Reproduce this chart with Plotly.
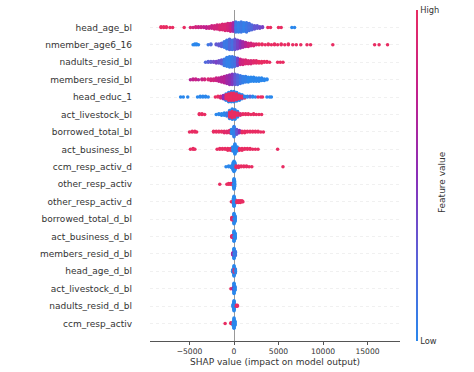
import numpy as np
import plotly.graph_objects as go

# Feature names, top to bottom
feature_names = [
    "head_age_bl", "nmember_age6_16", "nadults_resid_bl", "members_resid_bl",
    "head_educ_1", "act_livestock_bl", "borrowed_total_bl", "act_business_bl",
    "ccm_resp_activ_d", "other_resp_activ", "other_resp_activ_d",
    "borrowed_total_d_bl", "act_business_d_bl", "members_resid_d_bl",
    "head_age_d_bl", "act_livestock_d_bl", "nadults_resid_d_bl", "ccm_resp_activ",
]

# Each row: (SHAP value, number of samples, feature value 0=low..1=high)
head_age_bl = [
    (-8200, 2, 1.0), (-7900, 2, 1.0), (-7600, 2, 1.0), (-7200, 1, 1.0), (-6900, 1, 1.0),
    (-5600, 1, 1.0), (-4900, 1, 0.9), (-4600, 1, 0.85), (-4300, 2, 0.85), (-4000, 2, 0.8),
    (-3700, 2, 0.8), (-3400, 2, 0.75), (-3100, 3, 0.75), (-2800, 3, 0.8), (-2500, 4, 0.8),
    (-2200, 5, 0.85), (-1900, 6, 0.85), (-1600, 7, 0.9), (-1300, 8, 0.9), (-1000, 9, 0.9),
    (-700, 10, 0.85), (-400, 11, 0.8), (-100, 12, 0.6), (200, 14, 0.1), (500, 13, 0.05),
    (800, 14, 0.1), (1100, 12, 0.05), (1400, 13, 0.1), (1700, 10, 0.15), (2000, 7, 0.2),
    (2300, 5, 0.3), (2600, 4, 0.3), (2900, 3, 0.35), (3200, 2, 0.4), (3800, 1, 1.0),
    (4100, 1, 1.0), (5000, 1, 1.0), (5300, 1, 1.0), (6500, 1, 0.0), (6800, 1, 0.0),
]
nmember_age6_16 = [
    (-4600, 1, 0.0), (-4400, 2, 0.0), (-4200, 2, 0.0), (-4000, 1, 0.0),
    (-2900, 1, 0.1), (-2600, 2, 0.2), (-2000, 2, 0.3), (-1700, 3, 0.3), (-1400, 5, 0.25),
    (-1100, 8, 0.1), (-800, 12, 0.1), (-500, 14, 0.2), (-200, 13, 0.15), (100, 14, 0.3),
    (400, 12, 0.4), (700, 10, 0.5), (1000, 8, 0.6), (1300, 6, 0.7), (1600, 5, 0.8),
    (1900, 4, 0.85), (2200, 3, 0.9), (2500, 2, 0.9), (2800, 2, 1.0), (3150, 2, 1.0),
    (3500, 1, 1.0), (3850, 2, 1.0), (4200, 1, 1.0), (4550, 2, 1.0), (4900, 1, 1.0),
    (5300, 2, 1.0), (5700, 1, 1.0), (6100, 2, 1.0), (6600, 1, 1.0), (7000, 1, 1.0),
    (7500, 1, 1.0), (8200, 1, 1.0), (8600, 1, 1.0), (11100, 1, 1.0), (15800, 1, 1.0),
    (16300, 1, 1.0), (17250, 1, 1.0),
]
nadults_resid_bl = [
    (-3200, 1, 0.2), (-2900, 2, 0.25), (-2600, 2, 0.3), (-2300, 2, 0.35), (-2000, 3, 0.4),
    (-1700, 4, 0.35), (-1400, 6, 0.3), (-1100, 9, 0.1), (-800, 12, 0.05), (-500, 14, 0.05),
    (-200, 14, 0.1), (100, 12, 0.15), (400, 10, 0.4), (700, 8, 0.8), (1000, 7, 0.85),
    (1300, 6, 0.9), (1600, 5, 0.9), (1900, 5, 0.9), (2200, 4, 0.95), (2500, 4, 0.95),
    (2800, 3, 1.0), (3100, 3, 1.0), (3400, 2, 1.0), (3700, 2, 1.0), (4000, 1, 1.0),
    (4900, 1, 1.0), (5200, 1, 1.0), (5500, 1, 1.0),
]
members_resid_bl = [
    (-4900, 1, 0.7), (-4600, 2, 0.75), (-4300, 2, 0.8), (-4000, 1, 0.7), (-3600, 2, 0.8),
    (-3300, 2, 0.85), (-2900, 2, 0.9), (-2600, 3, 0.85), (-2300, 3, 0.85), (-2000, 4, 0.8),
    (-1700, 5, 0.75), (-1400, 7, 0.7), (-1100, 9, 0.7), (-800, 11, 0.6), (-500, 13, 0.55),
    (-200, 14, 0.45), (100, 14, 0.3), (400, 13, 0.2), (700, 11, 0.1), (1000, 9, 0.05),
    (1300, 8, 0.05), (1600, 7, 0.0), (1900, 6, 0.0), (2200, 6, 0.0), (2500, 5, 0.0),
    (2800, 5, 0.0), (3100, 4, 0.0), (3400, 3, 0.0), (3700, 2, 0.0),
]
head_educ_1 = [
    (-6000, 1, 0.0), (-5700, 1, 0.0), (-5200, 1, 0.0), (-4100, 1, 0.0), (-3800, 2, 0.0),
    (-3500, 2, 0.0), (-3200, 2, 0.0), (-2900, 1, 0.0), (-2100, 1, 1.0), (-1800, 2, 1.0),
    (-1500, 3, 0.9), (-1200, 5, 0.5),
    (-900, 6, 1.0), (-900, 3, 0.0), (-600, 9, 1.0), (-600, 4, 0.0), (-300, 10, 1.0),
    (-300, 4, 0.0), (0, 10, 1.0), (0, 4, 0.0), (300, 8, 1.0), (300, 4, 0.0),
    (600, 5, 1.0), (600, 4, 0.0), (900, 3, 1.0), (900, 3, 0.0),
    (1200, 2, 0.0), (1200, 1, 1.0), (1500, 2, 0.0), (1800, 2, 0.2), (2100, 2, 0.0),
    (2400, 1, 0.0), (2700, 1, 1.0), (3000, 1, 1.0), (3200, 1, 1.0), (3700, 1, 0.0),
    (4000, 1, 0.0), (4200, 1, 0.0),
]
act_livestock_bl = [
    (-3900, 2, 1.0), (-3600, 2, 1.0), (-3300, 1, 1.0), (-2000, 1, 0.0), (-1700, 2, 0.0),
    (-1400, 3, 0.0), (-1100, 4, 0.0), (-800, 5, 0.1),
    (-500, 7, 1.0), (-500, 4, 0.0), (-200, 9, 1.0), (-200, 5, 0.0), (100, 7, 1.0),
    (100, 6, 0.0), (400, 4, 1.0), (400, 4, 0.0),
    (700, 3, 0.9), (1000, 2, 1.0), (1300, 2, 1.0), (1600, 2, 1.0), (1900, 1, 1.0),
    (2200, 2, 1.0), (2500, 1, 1.0), (2800, 1, 1.0), (3100, 1, 1.0),
]
borrowed_total_bl = [
    (-5000, 1, 1.0), (-4700, 2, 1.0), (-4400, 2, 1.0), (-4200, 1, 1.0),
    (-2300, 2, 1.0), (-2000, 2, 1.0), (-1700, 2, 1.0), (-1400, 2, 1.0), (-1100, 3, 0.95),
    (-800, 3, 0.95), (-500, 4, 0.95), (-300, 6, 0.0), (0, 14, 0.05), (300, 7, 0.3),
    (600, 4, 0.5), (900, 3, 1.0), (1200, 3, 1.0), (1500, 2, 1.0), (1800, 2, 1.0),
    (2100, 2, 1.0), (2400, 2, 1.0), (2700, 2, 1.0), (3000, 1, 1.0), (3300, 1, 1.0),
]
act_business_bl = [
    (-4900, 1, 1.0), (-4600, 2, 1.0), (-4400, 1, 1.0), (-1900, 1, 1.0), (-1600, 2, 1.0),
    (-1300, 2, 1.0), (-1000, 2, 1.0), (-700, 3, 1.0), (-400, 3, 1.0), (-150, 6, 0.0),
    (100, 14, 0.0), (350, 6, 0.0), (600, 3, 1.0), (900, 3, 1.0), (1200, 2, 1.0),
    (1500, 2, 1.0), (1800, 2, 1.0), (2100, 1, 1.0), (2400, 1, 1.0), (2700, 1, 1.0),
    (4900, 1, 1.0),
]
ccm_resp_activ_d = [
    (-900, 1, 0.0), (-600, 2, 0.0), (-300, 3, 0.0), (-100, 10, 0.0), (0, 14, 0.0),
    (100, 10, 0.0), (200, 3, 1.0), (500, 3, 1.0), (800, 2, 1.0), (1100, 2, 1.0),
    (1400, 2, 1.0), (1700, 1, 1.0), (2000, 1, 1.0), (5500, 1, 1.0),
]
other_resp_activ = [
    (-1600, 1, 1.0), (-800, 1, 1.0), (-600, 2, 1.0), (-400, 2, 1.0), (-200, 2, 1.0),
    (-50, 8, 0.0), (0, 14, 0.0), (60, 8, 0.0),
]
other_resp_activ_d = [
    (-300, 1, 1.0), (-60, 8, 0.0), (0, 14, 0.0), (60, 8, 0.0), (300, 3, 1.0),
    (500, 3, 1.0), (700, 3, 1.0), (900, 2, 1.0), (1000, 1, 1.0),
]
borrowed_total_d_bl = [
    (-250, 4, 1.0), (-100, 3, 0.9), (0, 14, 0.0), (120, 8, 0.0),
]
act_business_d_bl = [
    (-250, 3, 1.0), (-100, 3, 0.9), (0, 14, 0.0), (120, 8, 0.0),
]
members_resid_d_bl = [
    (-150, 3, 0.6), (0, 14, 0.0), (150, 6, 0.1),
]
head_age_d_bl = [
    (-150, 4, 0.0), (0, 4, 1.0), (0, 10, 0.0), (150, 6, 0.0),
]
act_livestock_d_bl = [
    (-350, 1, 1.0), (-100, 2, 0.5), (0, 14, 0.0), (100, 6, 0.0),
]
nadults_resid_d_bl = [
    (-100, 4, 0.0), (0, 14, 0.0), (250, 2, 1.0), (370, 2, 1.0),
]
ccm_resp_activ = [
    (-1000, 1, 1.0), (-350, 2, 1.0), (-100, 5, 0.0), (0, 14, 0.0), (100, 6, 0.0),
]

feature_rows = [
    head_age_bl, nmember_age6_16, nadults_resid_bl, members_resid_bl, head_educ_1,
    act_livestock_bl, borrowed_total_bl, act_business_bl, ccm_resp_activ_d,
    other_resp_activ, other_resp_activ_d, borrowed_total_d_bl, act_business_d_bl,
    members_resid_d_bl, head_age_d_bl, act_livestock_d_bl, nadults_resid_d_bl,
    ccm_resp_activ,
]

x_tick_values = [-5000, 0, 5000, 10000, 15000]
x_tick_labels = ["\u22125000", "0", "5000", "10000", "15000"]
colorbar_tick_labels = ["Low", "High"]

color_scale = [
    [0.0, "#2a87ec"], [0.25, "#5a62d8"], [0.5, "#8a2fb8"],
    [0.75, "#c2208c"], [1.0, "#e82c62"],
]


def swarm_offsets(vals, row_height=0.4, nbins=100):
    """Beeswarm vertical offsets (same layering scheme as SHAP's summary plot)."""
    vals = np.asarray(vals, dtype=float)
    n = len(vals)
    span = vals.max() - vals.min()
    quant = np.round(nbins * (vals - vals.min()) / (span + 1e-8))
    inds = np.argsort(quant, kind="stable")
    layer = 0
    last_bin = -1
    ys = np.zeros(n)
    for ind in inds:
        if quant[ind] != last_bin:
            layer = 0
        ys[ind] = np.ceil(layer / 2) * ((layer % 2) * 2 - 1)
        layer += 1
        last_bin = quant[ind]
    ys *= 0.9 * (row_height / np.max(ys + 1))
    return ys


xs, ys, cs = [], [], []
n_rows = len(feature_names)
for i, entries in enumerate(feature_rows):
    pos = n_rows - 1 - i
    counts = [e[1] for e in entries]
    vals = np.repeat([e[0] for e in entries], counts).astype(float)
    fvals = np.repeat([e[2] for e in entries], counts).astype(float)
    off = swarm_offsets(vals)
    order = np.argsort(-np.abs(off), kind="stable")
    xs.extend(vals[order].tolist())
    ys.extend((pos + off[order]).tolist())
    cs.extend(fvals[order].tolist())

fig = go.Figure(
    go.Scatter(
        x=xs, y=ys, mode="markers", hoverinfo="skip",
        marker=dict(
            size=3.5, color=cs, colorscale=color_scale, cmin=0, cmax=1,
            line=dict(width=0), showscale=True,
            colorbar=dict(
                x=1.064, xanchor="left", y=0.5, yanchor="middle",
                len=1, lenmode="fraction", thickness=2, thicknessmode="pixels",
                xpad=0, ypad=0, outlinewidth=0, ticks="",
                tickvals=[0, 1], ticktext=colorbar_tick_labels,
                tickfont=dict(size=8.3, color="#333"),
            ),
        ),
    )
)

fig.update_layout(
    width=474, height=372,
    margin=dict(l=150, r=74, t=10, b=31),
    plot_bgcolor="white", paper_bgcolor="white",
    font=dict(family="DejaVu Sans", color="#333"),
    showlegend=False,
    annotations=[dict(
        text="Feature value", x=1.168, y=0.48, xref="paper", yref="paper",
        textangle=-90, showarrow=False, xanchor="center", yanchor="middle",
        font=dict(size=9, color="#333"),
    )],
)
fig.update_xaxes(
    range=[-9440, 18650], tickvals=x_tick_values, ticktext=x_tick_labels,
    ticks="outside", ticklen=3, tickcolor="#555", tickfont=dict(size=7.6, color="#333"),
    showline=True, linecolor="#555", linewidth=1, showgrid=False,
    zeroline=True, zerolinecolor="#999", zerolinewidth=1,
    title=dict(text="SHAP value (impact on model output)", font=dict(size=9, color="#333"), standoff=3),
    automargin=False,
)
fig.update_yaxes(
    range=[-1, n_rows], tickvals=list(range(n_rows)),
    ticktext=list(reversed(feature_names)), ticks="",
    tickfont=dict(size=9, color="#333"), ticklabelstandoff=17,
    showgrid=True, gridcolor="#f0f0f0", gridwidth=1, griddash="dot",
    zeroline=False, showline=False, automargin=False,
)

fig.write_html(
    "out.html",
    config={"displayModeBar": False},
    post_script="document.body.style.margin='0';document.body.style.overflow='hidden';",
)
